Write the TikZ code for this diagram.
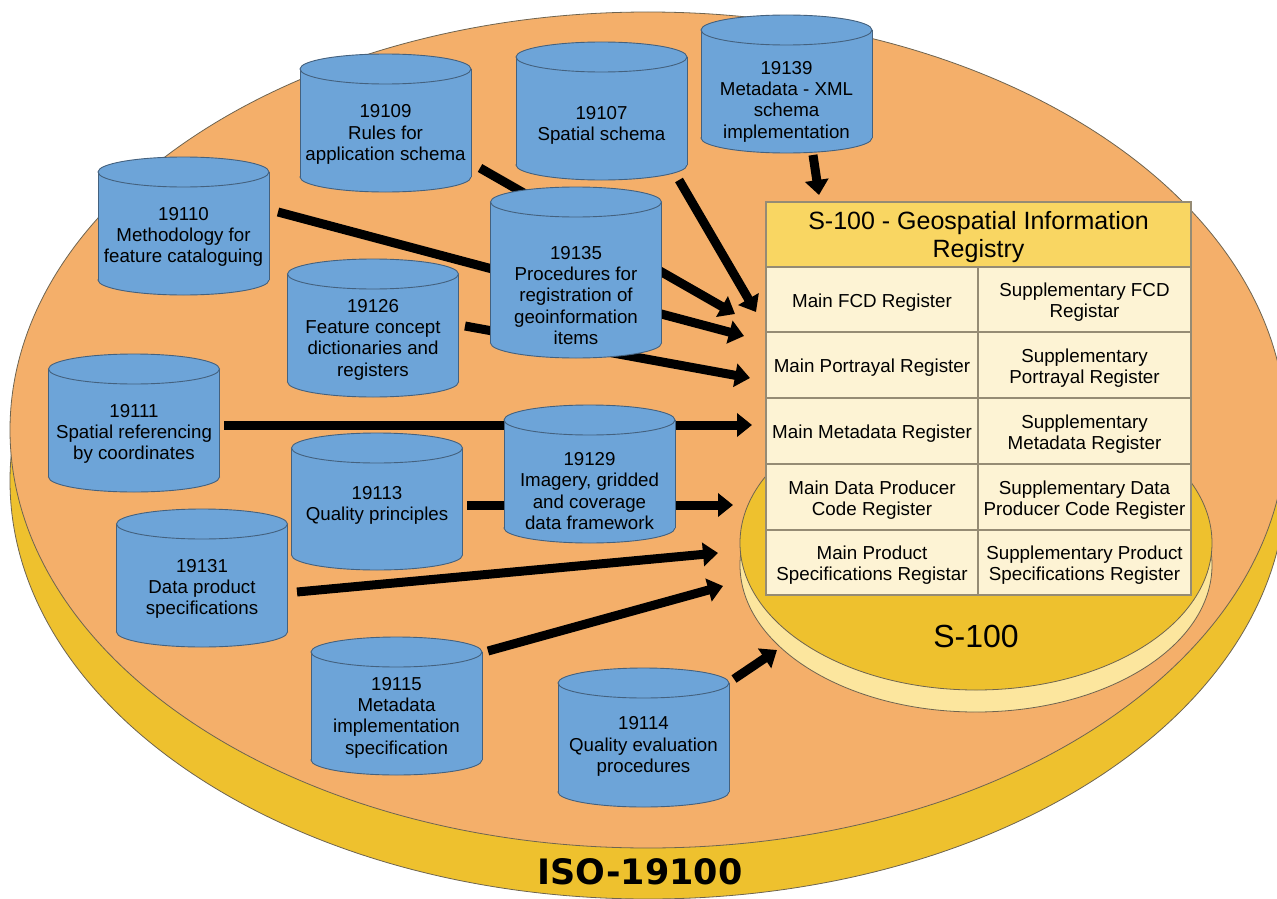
\documentclass[tikz,border=0pt]{standalone}
\usepackage{fontspec}
\setmainfont{Liberation Sans}
\newfontfamily\isofont{DejaVu Sans}
\usetikzlibrary{arrows.meta}
\definecolor{discorange}{HTML}{F4AF6A}
\definecolor{discgold}{HTML}{EEC12E}
\definecolor{discline}{HTML}{6E6450}
\definecolor{cylblue}{HTML}{6DA4D8}
\definecolor{cylline}{HTML}{44617E}
\definecolor{sidecream}{HTML}{FCE69E}
\definecolor{hdrfill}{HTML}{F9D662}
\definecolor{cellfill}{HTML}{FDF3D4}
\definecolor{tabline}{HTML}{958B74}

\newcommand\dbcyl[6]{%
  \filldraw[cylbody] (#2,#4-15) ellipse [x radius=85.5, y radius=15];
  \fill[cylblue] (#2-85.5,#3+15) rectangle (#2+85.5,#4-15);
  \draw[cylside] (#2-85.5,#3+15) -- (#2-85.5,#4-15) (#2+85.5,#3+15) -- (#2+85.5,#4-15);
  \filldraw[cylbody] (#2,#3+15) ellipse [x radius=85.5, y radius=15];
  \node[cyltext] (#1) at (#2,#5) {#6};
}
\newcommand\regbox[6]{% name, cx, cy, width, height, text
  \node[regcell, minimum width=#4pt, minimum height=#5pt] (#1) at (#2,#3) {};
  \node[celltext] (#1-t) at (#1.center) {#6};
}

\begin{document}
\begin{tikzpicture}[x=1pt,y=-1pt,
  discshape/.style={draw=discline, line width=0.8pt},
  cylbody/.style={fill=cylblue, draw=cylline, line width=0.9pt},
  cylside/.style={draw=cylline, line width=0.9pt},
  cyltext/.style={font=\fontsize{18.7}{21.3}\selectfont, align=center, inner sep=0pt, yshift=-3pt},
  bigarrow/.style={line width=9pt, -{Triangle[length=15pt,width=23pt]}},
  regcell/.style={draw=tabline, line width=1.2pt, fill=cellfill, inner sep=0pt},
  hdrtext/.style={font=\fontsize{25}{27.5}\selectfont, align=center, inner sep=0pt, yshift=-2.5pt},
  celltext/.style={font=\fontsize{18.8}{21}\selectfont, align=center, inner sep=0pt, yshift=-3pt}
]
\useasboundingbox (0,0) rectangle (1277,899);

% ISO-19100 disc
\begin{scope}
  \clip (0,0) rectangle (1277,899);
  \filldraw[discshape, fill=discgold] (648,481) ellipse [x radius=638, y radius=418];
  \filldraw[discshape, fill=discorange] (648,430) ellipse [x radius=638, y radius=418];
\end{scope}
\node[font=\isofont\bfseries\fontsize{35}{40}\selectfont, inner sep=0pt] (iso) at (640,872) {ISO-19100};

% S-100 disc
\filldraw[discshape, fill=sidecream] (976,565) ellipse [x radius=236, y radius=147];
\filldraw[discshape, fill=discgold] (976,543) ellipse [x radius=236, y radius=147];
\node[font=\fontsize{32}{36}\selectfont, inner sep=0pt] (s100) at (976,636) {S-100};

% connector end points
\coordinate (s1) at (480,168);  \coordinate (e1) at (735,314);
\coordinate (s2) at (679,180);  \coordinate (e2) at (756,312);
\coordinate (s3) at (278,212);  \coordinate (e3) at (744,336);
\coordinate (s4) at (465,326);  \coordinate (e4) at (750,378);
\coordinate (s5) at (224,425);  \coordinate (e5) at (752,425);
\coordinate (s6) at (467,505);  \coordinate (e6) at (733,505);
\coordinate (s7) at (297,592);  \coordinate (e7) at (718,553);
\coordinate (s8) at (488,651);  \coordinate (e8) at (723,586);
\coordinate (s9) at (734,679);  \coordinate (e9) at (777,650);
\coordinate (s10) at (813,155); \coordinate (e10) at (819,195);

\foreach \i in {1,...,10} {\draw[bigarrow] (s\i) -- (e\i);}

% standards
\dbcyl{c19109}{385.5}{54}{192}{131.5}{19109\\Rules for\\application schema}
\dbcyl{c19107}{601.5}{42}{180}{122.5}{19107\\Spatial schema}
\dbcyl{c19139}{786.5}{15}{153}{98.5}{19139\\Metadata - XML\\schema\\implementation}
\dbcyl{c19110}{183.5}{157}{295}{234}{19110\\Methodology for\\feature cataloguing}
\dbcyl{c19135}{576}{187}{358}{292.5}{19135\\Procedures for\\registration of\\geoinformation\\items}
\dbcyl{c19126}{373}{259}{397}{336.5}{19126\\Feature concept\\dictionaries and\\registers}
\dbcyl{c19111}{134}{354}{492}{431}{19111\\Spatial referencing\\by coordinates}
\dbcyl{c19113}{377}{433}{570}{502.5}{19113\\Quality principles}
\dbcyl{c19129}{589.5}{405}{543}{488}{19129\\Imagery, gridded\\and coverage\\data framework}
\dbcyl{c19131}{202}{509}{647}{586}{19131\\Data product\\specifications}
\dbcyl{c19115}{396.5}{637}{775}{714.5}{19115\\Metadata\\implementation\\specification}
\dbcyl{c19114}{643.5}{668}{807}{743.5}{19114\\Quality evaluation\\procedures}

% registry table
\node[regcell, fill=hdrfill, minimum width=425pt, minimum height=65pt] (reg) at (978.5,234.5) {};
\node[hdrtext] (reg-t) at (reg.center) {S-100 - Geospatial Information\\Registry};
\regbox{m1}{872}{299.5}{212}{65}{Main FCD Register}
\regbox{p1}{1084.5}{299.5}{213}{65}{Supplementary FCD\\Registar}
\regbox{m2}{872}{365}{212}{66}{Main Portrayal Register}
\regbox{p2}{1084.5}{365}{213}{66}{Supplementary\\Portrayal Register}
\regbox{m3}{872}{431}{212}{66}{Main Metadata Register}
\regbox{p3}{1084.5}{431}{213}{66}{Supplementary\\Metadata Register}
\regbox{m4}{872}{497}{212}{66}{Main Data Producer\\Code Register}
\regbox{p4}{1084.5}{497}{213}{66}{Supplementary Data\\Producer Code Register}
\regbox{m5}{872}{562.5}{212}{65}{Main Product\\Specifications Registar}
\regbox{p5}{1084.5}{562.5}{213}{65}{Supplementary Product\\Specifications Register}
\end{tikzpicture}
\end{document}
